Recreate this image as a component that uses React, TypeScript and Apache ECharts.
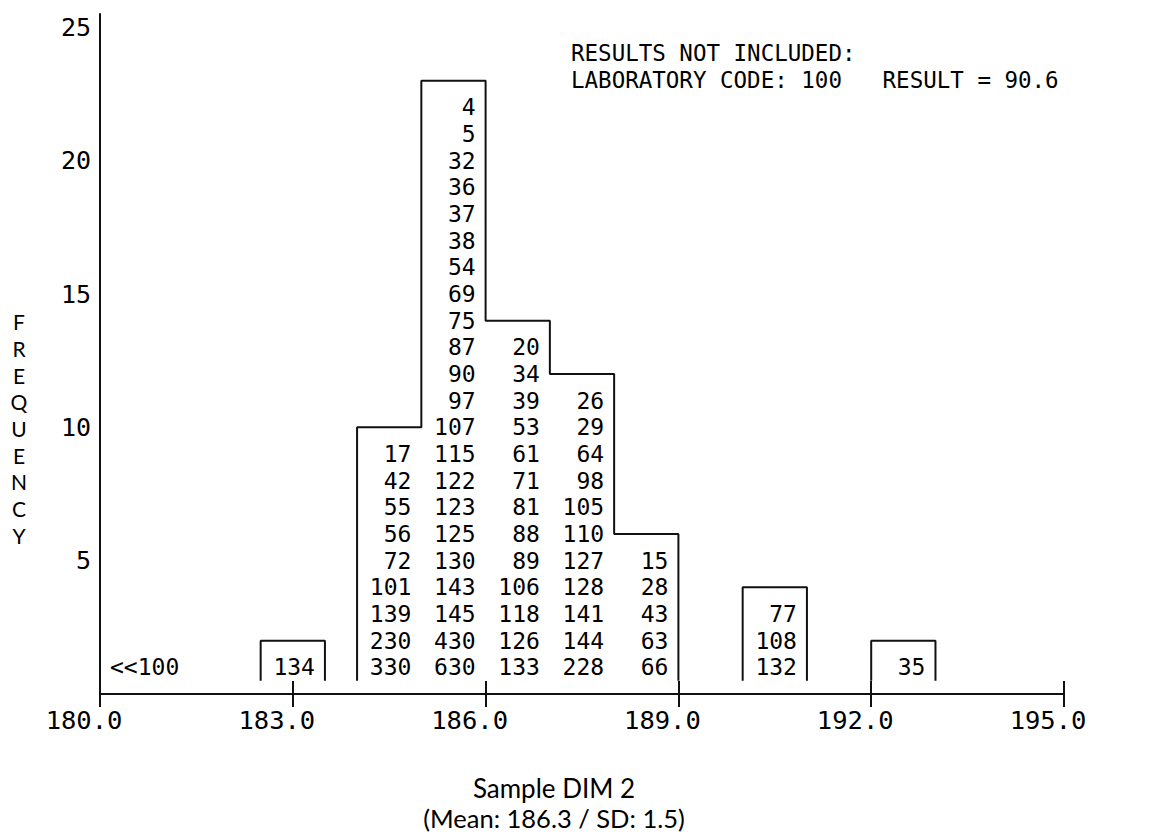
import React, { useEffect, useRef } from "react";
import * as echarts from "echarts";

// Axis ranges
const X_MIN = 180;
const X_MAX = 195;
const X_STEP = 3;
const Y_MIN = 0;
const Y_MAX = 25.5;
const Y_STEP = 5;

// Histogram bins (lower / upper edge) and the laboratory codes in each, listed top to bottom
const binLower = [182.5, 184, 185, 186, 187, 188, 190, 192];
const binUpper = [183.5, 185, 186, 187, 188, 189, 191, 193];
const codes183 = [134];
const codes184 = [17, 42, 55, 56, 72, 101, 139, 230, 330];
const codes185 = [4, 5, 32, 36, 37, 38, 54, 69, 75, 87, 90, 97, 107, 115, 122, 123, 125, 130, 143, 145, 430, 630];
const codes186 = [20, 34, 39, 53, 61, 71, 81, 88, 89, 106, 118, 126, 133];
const codes187 = [26, 29, 64, 98, 105, 110, 127, 128, 141, 144, 228];
const codes188 = [15, 28, 43, 63, 66];
const codes190 = [77, 108, 132];
const codes192 = [35];
const binCodes = [codes183, codes184, codes185, codes186, codes187, codes188, codes190, codes192];

// Result outside the plotted range
const excludedCode = 100;
const excludedResult = 90.6;

const sampleName = "Sample DIM 2";
const meanValue = 186.3;
const sdValue = 1.5;

// Outline drawing: boxes start half a row above the axis and close one row above the top code
const BOX_BASE = 0.5;
const BOX_HEADROOM = 1;

const MONO = "'DejaVu Sans Mono', monospace";
const SANS = "Lato, 'Noto Sans', sans-serif";
const INK = "#111";

type Label = { x: number; row: number; text: string; align: "left" | "right" };

function buildOutlines(): number[][][] {
  const outlines: number[][][] = [];
  let current: number[][] | null = null;
  let prevUpper = NaN;
  binCodes.forEach((codes, i) => {
    const lo = binLower[i];
    const hi = binUpper[i];
    const top = codes.length + BOX_HEADROOM;
    if (current && lo === prevUpper) {
      current.push([lo, top], [hi, top]);
    } else {
      if (current) {
        current.push([prevUpper, BOX_BASE]);
        outlines.push(current);
      }
      current = [[lo, BOX_BASE], [lo, top], [hi, top]];
    }
    prevUpper = hi;
  });
  if (current) {
    current.push([prevUpper, BOX_BASE]);
    outlines.push(current);
  }
  return outlines;
}

function buildLabels(): Label[] {
  const labels: Label[] = [];
  binCodes.forEach((codes, i) => {
    codes.forEach((code, k) => {
      labels.push({ x: binUpper[i], row: codes.length - k, text: String(code), align: "right" });
    });
  });
  labels.push({ x: X_MIN, row: 1, text: "<<" + excludedCode, align: "left" });
  return labels;
}

export default function App() {
  const ref = useRef<HTMLDivElement>(null);

  useEffect(() => {
    if (!ref.current) return;
    const chart = echarts.init(ref.current, undefined, { renderer: "svg" });
    const outlines = buildOutlines();
    const labels = buildLabels();

    const outlineSeries = outlines.map((pts) => ({
      type: "line",
      data: pts,
      showSymbol: false,
      symbol: "none",
      silent: true,
      lineStyle: { color: INK, width: 2 },
      z: 3,
    }));

    const option: any = {
      animation: false,
      backgroundColor: "#fff",
      grid: { left: 100, right: 93, top: 14, bottom: 140 },
      xAxis: [
        {
          type: "value",
          min: X_MIN,
          max: X_MAX,
          interval: X_STEP,
          position: "bottom",
          splitLine: { show: false },
          axisLine: { show: true, lineStyle: { color: INK, width: 2 } },
          axisTick: { show: true, inside: false, length: 13, lineStyle: { color: INK, width: 2 } },
          axisLabel: {
            formatter: (v: number) => v.toFixed(1),
            fontFamily: MONO,
            fontSize: 25.5,
            color: "#000",
            margin: 13,
            padding: [0, 32, 0, 0],
          },
        },
        {
          type: "value",
          min: X_MIN,
          max: X_MAX,
          interval: X_STEP,
          position: "bottom",
          splitLine: { show: false },
          axisLine: { show: false },
          axisTick: { show: true, inside: true, length: 13, lineStyle: { color: INK, width: 2 } },
          axisLabel: { show: false },
        },
      ],
      yAxis: {
        type: "value",
        min: Y_MIN,
        max: Y_MAX,
        interval: Y_STEP,
        splitLine: { show: false },
        axisLine: { show: true, lineStyle: { color: INK, width: 2 } },
        axisTick: { show: false },
        axisLabel: {
          formatter: (v: number) => (v > 0 && v % Y_STEP === 0 ? String(v) : ""),
          fontFamily: MONO,
          fontSize: 25,
          color: "#000",
          margin: 9,
        },
      },
      graphic: [
        {
          type: "text",
          x: 571,
          y: 66.7,
          style: {
            text: "RESULTS NOT INCLUDED:\nLABORATORY CODE: " + excludedCode + "   RESULT = " + excludedResult,
            fontFamily: MONO,
            fontSize: 22.5,
            lineHeight: 26.67,
            fill: "#000",
            align: "left",
            verticalAlign: "middle",
          },
        },
        {
          type: "text",
          x: 19,
          y: 428.5,
          style: {
            text: "FREQUENCY".split("").join("\n"),
            fontFamily: SANS,
            fontSize: 21,
            lineHeight: 26.67,
            fill: "#000",
            align: "center",
            verticalAlign: "middle",
          },
        },
        {
          type: "text",
          x: 554,
          y: 788,
          style: {
            text: sampleName,
            fontFamily: SANS,
            fontSize: 26,
            fill: "#000",
            align: "center",
            verticalAlign: "middle",
          },
        },
        {
          type: "text",
          x: 554,
          y: 818,
          style: {
            text: "(Mean: " + meanValue.toFixed(1) + " / SD: " + sdValue.toFixed(1) + ")",
            fontFamily: SANS,
            fontSize: 25.5,
            fill: "#000",
            align: "center",
            verticalAlign: "middle",
          },
        },
      ],
      series: [
        ...outlineSeries,
        {
          type: "custom",
          silent: true,
          z: 4,
          data: labels.map((l) => [l.x, l.row]),
          encode: { x: 0, y: 1 },
          renderItem: (params: any, api: any) => {
            const l = labels[params.dataIndex];
            const p = api.coord([l.x, l.row]);
            return {
              type: "text",
              x: p[0] + (l.align === "right" ? -10 : 10),
              y: p[1],
              style: {
                text: l.text,
                fontFamily: MONO,
                fontSize: 23,
                lineHeight: 26,
                fill: "#000",
                align: l.align,
                verticalAlign: "middle",
              },
            };
          },
        },
      ],
    };

    chart.setOption(option);
    return () => chart.dispose();
  }, []);

  return (
    <div
      ref={ref}
      style={{ position: "fixed", left: 0, top: 0, width: 1157, height: 834, background: "#fff" }}
    />
  );
}
